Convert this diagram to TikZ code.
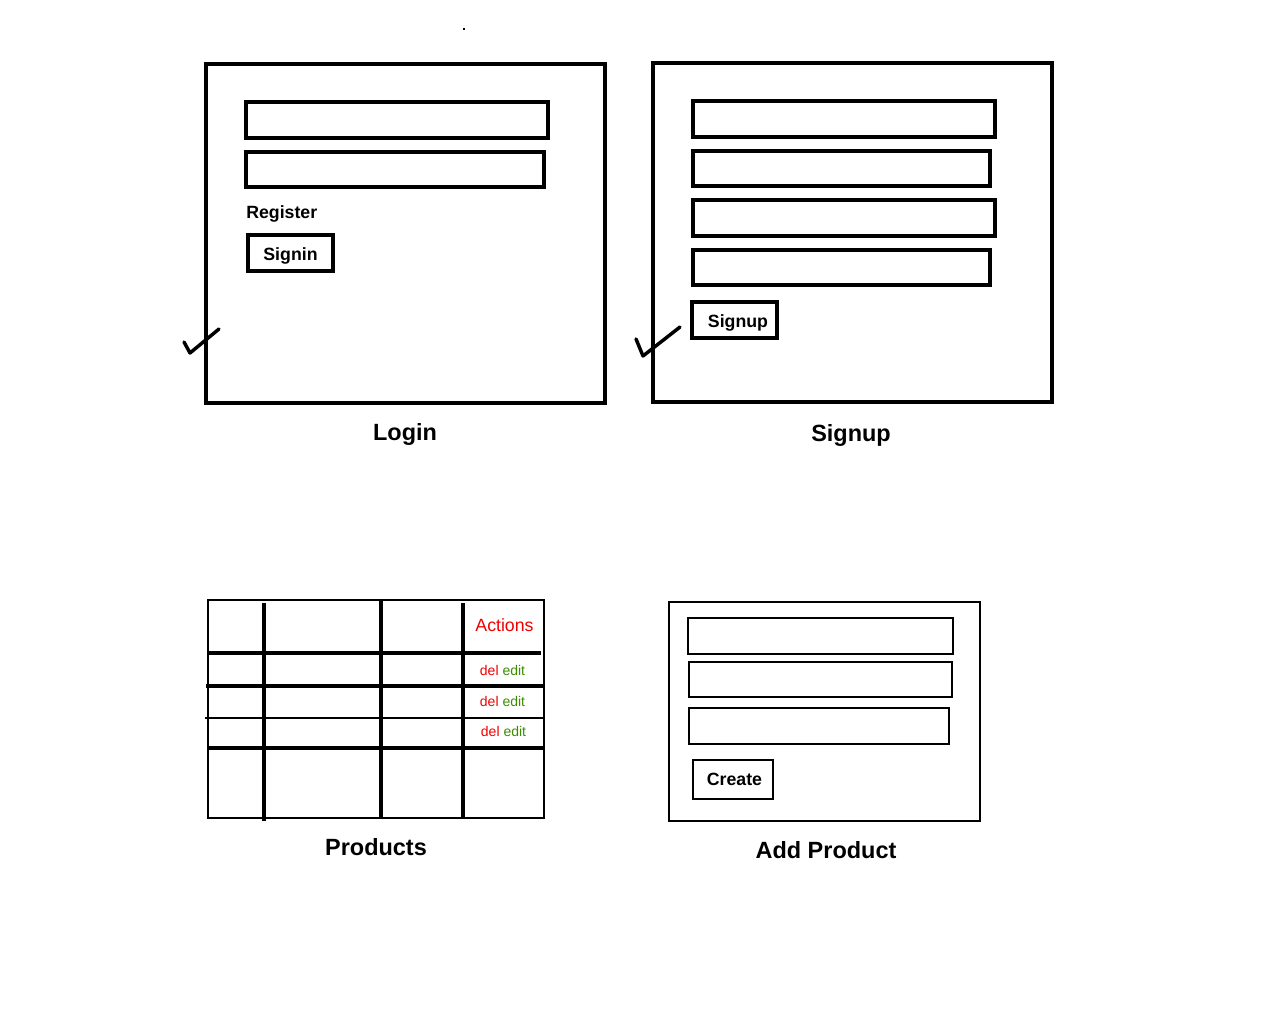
\documentclass[tikz,border=0pt]{standalone}
\usepackage{fontspec}
\setmainfont{Liberation Sans}
\begin{document}
\begin{tikzpicture}[x=0.75pt,y=-0.75pt,
  heavy/.style={draw=black,line width=2.5pt},
  medium/.style={draw=black,line width=1.7pt},
  title/.style={font=\fontsize{17.6}{20}\selectfont\bfseries,inner sep=0pt},
  btntext/.style={font=\fontsize{13.3}{16}\selectfont\bfseries,inner sep=0pt},
  tick/.style={draw=black,line width=2.6pt,line join=round,line cap=round},
  small/.style={font=\fontsize{10.5}{12}\selectfont,inner sep=0pt}]
\definecolor{actred}{RGB}{240,0,0}
\definecolor{actgreen}{RGB}{60,140,0}
\useasboundingbox (0,0) rectangle (1280,1024);
\fill[white] (0,0) rectangle (1280,1024);
\fill[black] (463,28) rectangle (465,30);

% ---- Login screen ----
\draw[heavy] (206,64) rectangle (605,403);
\draw[heavy] (246,102) rectangle (548,138);
\draw[heavy] (246,152) rectangle (544,187);
\node[btntext,anchor=west] (register) at (246,214) {Register};
\draw[heavy] (248,235) rectangle (333,271);
\node[btntext] (signin) at (290.5,256) {Signin};
\draw[tick] (184,342) -- (190,353) -- (219,329);
\node[title] (login) at (405,434) {Login};

% ---- Signup screen ----
\draw[heavy] (653,63) rectangle (1052,402);
\draw[heavy] (693,101) rectangle (995,137);
\draw[heavy] (693,151) rectangle (990,186);
\draw[heavy] (693,200) rectangle (995,236);
\draw[heavy] (693,250) rectangle (990,285);
\draw[heavy] (692,302) rectangle (777,338);
\node[btntext] (signupbtn) at (738,323) {Signup};
\draw[tick] (636,339) -- (643,356) -- (680,327);
\node[title] (signup) at (851,435) {Signup};

% ---- Products table ----
\draw[medium] (208,600) rectangle (544,818);
\draw[heavy] (264,603) -- (264,821);
\draw[heavy] (381,600) -- (381,818);
\draw[heavy] (463,603) -- (463,818);
\draw[heavy] (208,653) -- (541,653);
\draw[heavy] (206,686) -- (543,686);
\draw[medium] (205,718) -- (543,718);
\draw[heavy] (208,748) -- (544,748);
\node[font=\fontsize{13.3}{16}\selectfont,text=actred,inner sep=0pt] (actions) at (504.5,625) {Actions};
\node[small] (row1) at (502.5,670) {\textcolor{actred}{del} \textcolor{actgreen}{edit}};
\node[small] (row2) at (502.5,701) {\textcolor{actred}{del} \textcolor{actgreen}{edit}};
\node[small] (row3) at (503.5,731) {\textcolor{actred}{del} \textcolor{actgreen}{edit}};
\node[title] (products) at (376,847) {Products};

% ---- Add Product form ----
\draw[medium] (669,602) rectangle (980,821);
\draw[medium] (688,618) rectangle (953,654);
\draw[medium] (689,662) rectangle (952,697);
\draw[medium] (689,708) rectangle (949,744);
\draw[medium] (693,760) rectangle (773,799);
\node[btntext] (create) at (734.5,779) {Create};
\node[title] (addproduct) at (826,850) {Add Product};
\end{tikzpicture}
\end{document}
